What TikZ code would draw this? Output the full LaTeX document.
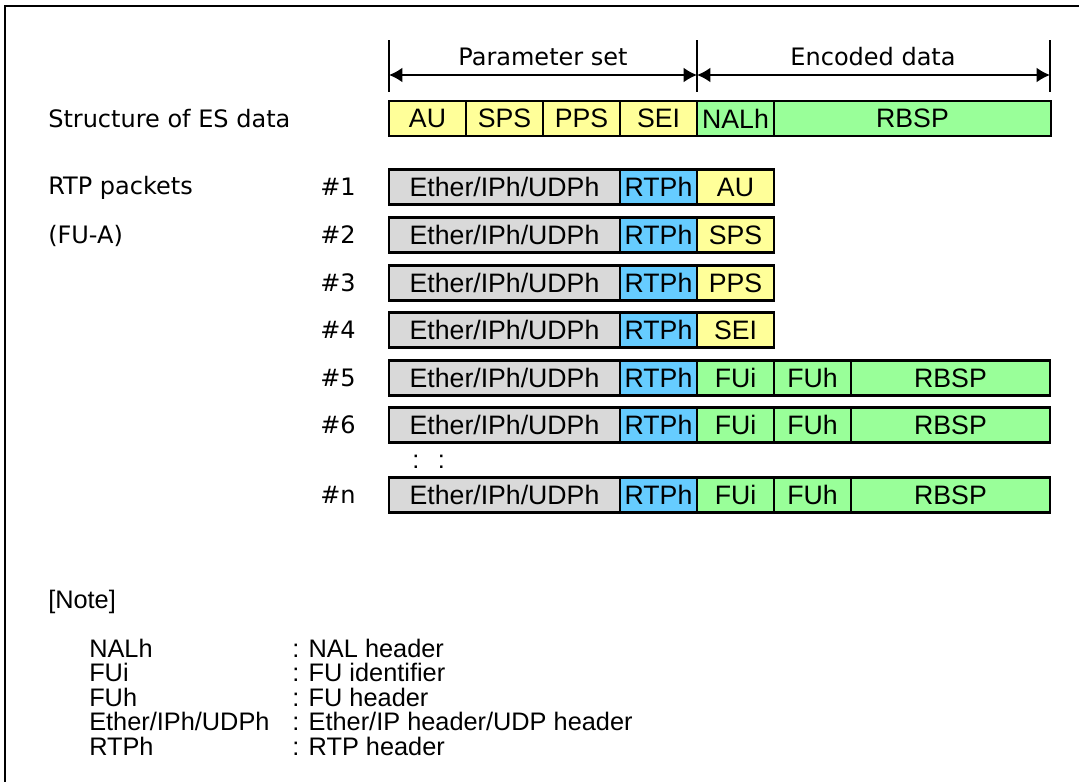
\documentclass[tikz,border=0pt]{standalone}
\usepackage{fontspec}
\usepackage{tikz}
\usetikzlibrary{arrows.meta, positioning}

\newfontfamily\lblfont{DejaVu Sans}
\newfontfamily\cellfont{Liberation Sans}

\definecolor{hdrgray}{HTML}{D9D9D9}
\definecolor{rtpblue}{HTML}{66CCFF}
\definecolor{psyellow}{HTML}{FFFF99}
\definecolor{encgreen}{HTML}{99FF99}

\begin{document}
\begin{tikzpicture}[x=0.75pt, y=-0.75pt,
  cell/.style={draw, line width=2pt, inner sep=0pt, outer sep=0pt, minimum height=26.25pt,
    font=\cellfont\fontsize{20pt}{22pt}\selectfont},
  hdr/.style={cell, fill=hdrgray, minimum width=173.25pt},
  rtp/.style={cell, fill=rtpblue, minimum width=57.75pt},
  pset/.style={cell, fill=psyellow, minimum width=57.75pt},
  enc/.style={cell, fill=encgreen, minimum width=57.75pt},
  lbl/.style={anchor=west, inner sep=0pt, font=\lblfont\fontsize{18pt}{20pt}\selectfont},
  note/.style={anchor=west, inner sep=0pt, font=\cellfont\fontsize{19pt}{21pt}\selectfont},
  tick/.style={line width=1.5pt},
  dim/.style={line width=1.1pt, {Latex[length=10pt,width=11pt]}-{Latex[length=10pt,width=11pt]}}
]
\useasboundingbox (0,0) rectangle (1079,782);

% frame
\draw [line width=2pt] (5,782) -- (5,6) -- (1079,6);

% dimension lines
\coordinate (t1a) at (389,40);  \coordinate (t1b) at (389,92);
\coordinate (t2a) at (697,40);  \coordinate (t2b) at (697,92);
\coordinate (t3a) at (1050,40); \coordinate (t3b) at (1050,92);
\coordinate (a1) at (389,75);
\coordinate (a2) at (697,75);
\coordinate (a3) at (1050,75);

\draw [tick] (t1a) -- (t1b);
\draw [tick] (t2a) -- (t2b);
\draw [tick] (t3a) -- (t3b);
\draw [dim] (a1) -- (a2);
\draw [dim] (a2) -- (a3);

\node [lbl, anchor=center] (pslabel) at (543,57) {Parameter set};
\node [lbl, anchor=center] (enclabel) at (873,57) {Encoded data};

% ES data
\node [lbl] (es) at (48,118.5) {Structure of ES data};
\node [pset, anchor=west] (au) at (389,118.5) {AU};
\node [pset, right=0pt of au] (sps) {SPS};
\node [pset, right=0pt of sps] (pps) {PPS};
\node [pset, right=0pt of pps] (sei) {SEI};
\node [enc, right=0pt of sei] (nalh) {NALh};
\node [enc, right=0pt of nalh, minimum width=207.75pt] (rbsp) {RBSP};

% RTP packets
\node [lbl] (rtplabel) at (48,188) {RTP packets};
\node [lbl] (fualabel) at (48,236) {(FU-A)};

\node [lbl] (n1) at (320,187) {\#1};
\node [hdr, anchor=west] (h1) at (389,187) {Ether/IPh/UDPh};
\node [rtp, right=0pt of h1] (r1) {RTPh};
\node [pset, right=0pt of r1] (p1) {AU};

\node [lbl] (n2) at (320,235) {\#2};
\node [hdr, anchor=west] (h2) at (389,235) {Ether/IPh/UDPh};
\node [rtp, right=0pt of h2] (r2) {RTPh};
\node [pset, right=0pt of r2] (p2) {SPS};

\node [lbl] (n3) at (320,283) {\#3};
\node [hdr, anchor=west] (h3) at (389,283) {Ether/IPh/UDPh};
\node [rtp, right=0pt of h3] (r3) {RTPh};
\node [pset, right=0pt of r3] (p3) {PPS};

\node [lbl] (n4) at (320,330) {\#4};
\node [hdr, anchor=west] (h4) at (389,330) {Ether/IPh/UDPh};
\node [rtp, right=0pt of h4] (r4) {RTPh};
\node [pset, right=0pt of r4] (p4) {SEI};

\node [lbl] (n5) at (320,378) {\#5};
\node [hdr, anchor=west] (h5) at (389,378) {Ether/IPh/UDPh};
\node [rtp, right=0pt of h5] (r5) {RTPh};
\node [enc, right=0pt of r5] (fui5) {FUi};
\node [enc, right=0pt of fui5] (fuh5) {FUh};
\node [enc, right=0pt of fuh5, minimum width=149.25pt] (b5) {RBSP};

\node [lbl] (n6) at (320,425) {\#6};
\node [hdr, anchor=west] (h6) at (389,425) {Ether/IPh/UDPh};
\node [rtp, right=0pt of h6] (r6) {RTPh};
\node [enc, right=0pt of r6] (fui6) {FUi};
\node [enc, right=0pt of fui6] (fuh6) {FUh};
\node [enc, right=0pt of fuh6, minimum width=149.25pt] (b6) {RBSP};

\node [note] (dots) at (412,462) {:\hspace{14pt}:};

\node [lbl] (nn) at (320,495) {\#n};
\node [hdr, anchor=west] (hn) at (389,495) {Ether/IPh/UDPh};
\node [rtp, right=0pt of hn] (rn) {RTPh};
\node [enc, right=0pt of rn] (fuin) {FUi};
\node [enc, right=0pt of fuin] (fuhn) {FUh};
\node [enc, right=0pt of fuhn, minimum width=149.25pt] (bn) {RBSP};

% note
\node [note] (notehead) at (48,602) {[Note]};
\node [note] (k1) at (89,648) {NALh};
\node [note] (k2) at (89,672.5) {FUi};
\node [note] (k3) at (89,697) {FUh};
\node [note] (k4) at (89,721.5) {Ether/IPh/UDPh};
\node [note] (k5) at (89,746) {RTPh};
\node [note] (v1) at (292,648) {: NAL header};
\node [note] (v2) at (292,672.5) {: FU identifier};
\node [note] (v3) at (292,697) {: FU header};
\node [note] (v4) at (292,721.5) {: Ether/IP header/UDP header};
\node [note] (v5) at (292,746) {: RTP header};
\end{tikzpicture}
\end{document}
